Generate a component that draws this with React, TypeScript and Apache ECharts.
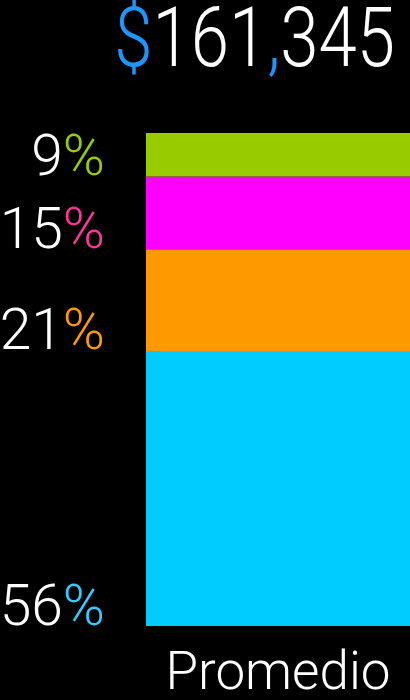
import React, { useEffect, useRef } from "react";
import * as echarts from "echarts";

const categories = ["Promedio"];
const segmentNames = ["Segment A", "Segment B", "Segment C", "Segment D"];
const segmentValues = [55.8, 20.6, 14.8, 8.8];
const segmentColors = ["#00ccff", "#ff9900", "#ff00ff", "#99cc00"];
const percentColors = ["#33ccff", "#ff9900", "#ff3399", "#99cc00"];
const totalAmount = 161345;

const FONT = "Roboto";
const WEIGHT = 300;

export default function App() {
  const ref = useRef<HTMLDivElement>(null);
  useEffect(() => {
    if (!ref.current) return;
    const chart = echarts.init(ref.current, null, { renderer: "svg" });
    const total = segmentValues.reduce((a, b) => a + b, 0);
    const amountStr = totalAmount.toLocaleString("en-US");
    const titleText = amountStr
      .split("")
      .map((ch) => (ch === "," ? "{b|,}" : ch))
      .join("");
    const series = segmentValues.map((v, i) => ({
      name: segmentNames[i],
      type: "bar",
      stack: "total",
      barWidth: "100%",
      data: [v],
      itemStyle: { color: segmentColors[i] },
      label: {
        show: true,
        position: [-41, "100%"],
        align: "right",
        verticalAlign: "bottom",
        offset: [0, 9],
        formatter: () => `{n|${Math.round((v / total) * 100)}}{p|%}`,
        rich: {
          n: { color: "#ffffff", fontSize: 57, fontFamily: FONT, fontWeight: WEIGHT, lineHeight: 60 },
          p: { color: percentColors[i], fontSize: 57, fontFamily: FONT, fontWeight: WEIGHT, lineHeight: 60 },
        },
      },
    }));
    chart.setOption({
      animation: false,
      backgroundColor: "#000000",
      graphic: [
        {
          type: "text",
          x: 395,
          y: 38,
          scaleX: 0.83,
          scaleY: 1,
          style: {
            text: "{b|$}" + titleText,
            align: "right",
            verticalAlign: "middle",
            fill: "#ffffff",
            fontSize: 83,
            fontFamily: FONT,
            fontWeight: WEIGHT,
            rich: {
              b: { fill: "#1e96ff", fontSize: 83, fontFamily: FONT, fontWeight: WEIGHT },
            },
          },
        },
      ],
      grid: { left: 146, right: 0, top: 133, bottom: 74 },
      xAxis: {
        type: "category",
        data: categories,
        axisLine: { show: false },
        axisTick: { show: false },
        axisLabel: { color: "#ffffff", fontSize: 53, fontFamily: FONT, fontWeight: WEIGHT, margin: 18 },
      },
      yAxis: {
        type: "value",
        min: 0,
        max: total,
        show: false,
        splitLine: { show: false },
      },
      series,
    });
    return () => chart.dispose();
  }, []);
  return <div ref={ref} style={{ width: 410, height: 700, position: "fixed", left: 0, top: 0 }} />;
}
